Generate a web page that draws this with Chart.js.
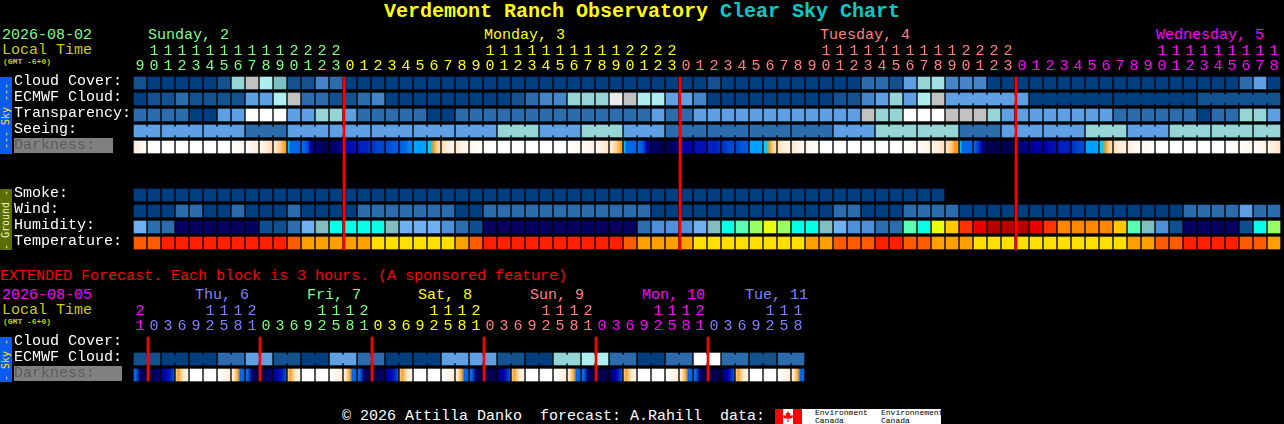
<!DOCTYPE html>
<html><head><meta charset="utf-8">
<script src="https://cdn.jsdelivr.net/npm/chart.js@4"></script>
<style>
html,body{margin:0;padding:0;background:#000;width:1284px;height:424px;overflow:hidden}
.t{position:absolute;white-space:pre;font:15px/15px "Liberation Mono",monospace}
.tiny{font:bold 8px/8px "Liberation Mono",monospace;color:#CCCC00}
.band{position:absolute;left:0;width:12px;overflow:hidden}
.band span{position:absolute;left:6px;top:50%;transform:translate(-50%,-50%) rotate(-90deg);white-space:pre;font:10px/10px "DejaVu Sans Mono",monospace}
canvas{position:absolute;left:0;display:block}
</style></head><body>
<div class="t" id="title" style="left:384px;top:1px;font:bold 20px/22px 'Liberation Mono',monospace;color:#FFFF00">Verdemont Ranch Observatory <span style="color:#00CCCC">Clear Sky Chart</span></div>
<div class="t" style="left:2px;top:28px;color:#80FF80">2026-08-02</div>
<div class="t" style="left:2px;top:43px;color:#CCCC00">Local Time</div>
<div class="t tiny" style="left:3px;top:58px">(GMT -6+0)</div>
<div class="t" style="left:148px;top:28px;color:#80FF80">Sunday, 2</div>
<div class="t" style="left:484px;top:28px;color:#FFFF00">Monday, 3</div>
<div class="t" style="left:820px;top:28px;color:#FF8080">Tuesday, 4</div>
<div class="t" style="left:1156px;top:28px;color:#FF00FF">Wednesday, 5</div>
<div class="band" style="top:77px;height:77px;background:#0A5CF0"><span style="color:#FFE800">--- Sky ---</span></div>
<div class="band" style="top:189px;height:61px;background:#5A6E00"><span style="color:#F0F0D0">- Ground -</span></div>
<div class="t" style="left:0;top:269px;color:#FF0000">EXTENDED Forecast. Each block is 3 hours. (A sponsored feature)</div>
<div class="t" style="left:2px;top:288px;color:#FF00FF">2026-08-05</div>
<div class="t" style="left:2px;top:303px;color:#CCCC00">Local Time</div>
<div class="t tiny" style="left:3px;top:318px">(GMT -6+0)</div>
<div class="t" style="left:195px;top:288px;color:#8080FF">Thu, 6</div>
<div class="t" style="left:307px;top:288px;color:#80FF80">Fri, 7</div>
<div class="t" style="left:418px;top:288px;color:#FFFF00">Sat, 8</div>
<div class="t" style="left:530px;top:288px;color:#FF8080">Sun, 9</div>
<div class="t" style="left:642px;top:288px;color:#FF00FF">Mon, 10</div>
<div class="t" style="left:745px;top:288px;color:#8080FF">Tue, 11</div>
<div class="band" style="top:337px;height:45px;background:#0A5CF0"><span style="color:#FFE800">- Sky -</span></div>
<div class="t" style="left:342px;top:409px;color:#FFFFFF">© 2026 Attilla Danko  forecast: A.Rahill  data:</div>
<div style="position:absolute;left:775px;top:409px;width:166px;height:15px;background:#fff;overflow:hidden">
  <div style="position:absolute;left:0;top:0;width:8px;height:15px;background:#f00"></div>
  <div style="position:absolute;left:18px;top:0;width:9px;height:15px;background:#f00"></div>
  <svg style="position:absolute;left:8px;top:2px" width="10" height="11" viewBox="0 0 10 11"><path d="M5 0L6.2 2.5 7.5 2 7 5 9.5 4 10 6 8 7.5 5.5 7.5 5.5 11 4.5 11 4.5 7.5 2 7.5 0 6 .5 4 3 5 2.5 2 3.8 2.5Z" fill="#f00"/></svg>
  <div style="position:absolute;left:40px;top:0;font:8px/7.5px 'Liberation Mono',monospace;color:#000;white-space:pre">Environment
Canada</div>
  <div style="position:absolute;left:106px;top:0;font:8px/7.5px 'Liberation Mono',monospace;color:#000;white-space:pre">Environnement
Canada</div>
</div>
<canvas id="main" width="1284" height="252" style="top:0;width:1284px;height:252px"></canvas>
<canvas id="ext" width="810" height="384" style="top:0;width:810px;height:384px"></canvas>
<script>
// ---------- categories and tick labels ----------
const rowNames = ["Cloud Cover:","ECMWF Cloud:","Transparency:","Seeing:","Darkness:  ","","","Smoke:","Wind:","Humidity:","Temperature:"];
const extRowNames = ["Cloud Cover:","ECMWF Cloud:","Darkness:   "];
const hours = [9,10,11,12,13,14,15,16,17,18,19,20,21,22,23,
 0,1,2,3,4,5,6,7,8,9,10,11,12,13,14,15,16,17,18,19,20,21,22,23,
 0,1,2,3,4,5,6,7,8,9,10,11,12,13,14,15,16,17,18,19,20,21,22,23,
 0,1,2,3,4,5,6,7,8,9,10,11,12,13,14,15,16,17,18];
const extHours = [21,0,3,6,9,12,15,18,21,0,3,6,9,12,15,18,21,0,3,6,9,12,15,18,21,0,3,6,9,12,15,18,21,0,3,6,9,12,15,18,21,0,3,6,9,12,15,18];
const dayColours = ["#80FF80","#FFFF00","#FF8080","#FF00FF"];
const daySpans = [15,24,24,19];
const extDayColours = ["#FF00FF","#8080FF","#80FF80","#FFFF00","#FF8080","#FF00FF","#8080FF"];
const extDaySpans = [1,8,8,8,8,8,7];
const midnights = [14.57,38.57,62.57];
const extMidnights = [0.57,8.57,16.57,24.57,32.57,40.57];

// ---------- series values (levels on each colour ramp) ----------
const cloudCover = [1,0,0,0,0,0,1,6,9,8, 5,1,1,3,2,0,0,0,0,0, 0,0,0,0,0,0,0,0,0,0, 0,0,0,0,0,0,0,0,0,0,
 0,1,0,0,0,0,0,0,0,0, 0,0,2,2,1,4,6,7,3,3, 3,0,0,0,0,0,0,0,0,0, 0,0,0,0,0,0,0,0,0,2, 4,0];
const ecmwfCloud = [0,1,1,2,1,1,1,1,4,4, 8,9,2,2,1,1,2,3,0,0, 0,0,0,0,0,0,0,1,2,3, 3,6,6,6,10,9,8,8,4,4,
 3,0,0,0,0,0,0,0,0,0, 1,1,3,4,6,4,8,9,4,4, 4,4,4,4,0,0,0,0,0,0, 0,0,0,0,0,0,1,1,1,1, 1,1];
const transparency = [2,2,2,2,0,0,4,4,11,11, 11,4,4,6,6,4,2,2,2,2, 2,0,0,2,2,2,2,2,2,2, 2,2,2,2,2,2,2,4,2,2,
 4,4,4,4,4,4,4,4,4,4, 4,4,9,6,6,11,11,11,9,9, 9,6,4,4,4,4,4,4,4,4, 2,2,2,2,2,2,0,2,2,6, 6,4];
const seeing = [4,4,4,4,4,4,4,4,2,2, 2,4,4,4,4,4,4,4,4,4, 4,4,4,4,4,4,6,6,6,4, 4,4,6,6,6,4,4,4,2,2,
 2,2,2,2,2,2,2,2,2,2, 4,4,4,6,6,6,6,6,6,2, 2,2,4,4,4,4,4,4,6,6, 6,4,4,4,6,6,6,6,6,6, 6,6];
const smoke = [0,0,0,0,0,0,0,0,0,0, 0,0,0,0,0,0,0,0,0,0, 0,0,0,0,0,0,0,0,0,0, 0,0,0,0,0,0,0,0,0,0,
 0,0,0,0,0,0,0,0,0,0, 0,0,0,0,0,0,0,0];
const wind = [0,0,0,2,2,0,0,2,0,0, 0,2,0,0,0,0,2,2,2,2, 2,2,2,0,0,2,2,2,2,2, 2,2,2,2,2,2,2,0,0,0,
 0,0,0,0,0,0,0,0,0,0, 2,2,0,0,0,2,2,2,2,0, 0,0,0,0,0,0,0,0,0,0, 0,0,0,0,0,2,2,2,2,4, 2,2];
const humidity = [4,2,2,0,0,0,0,0,0,1, 1,2,4,5,6,6,6,6,5,4, 4,4,3,2,1,0,0,0,0,0, 0,0,0,0,0,0,2,3,3,3,
 4,5,6,7,8,9,8,6,6,5, 4,3,3,2,2,7,6,9,10,12, 13,14,14,14,13,12,11,11,11,11, 10,7,5,3,1,0,0,0,0,1, 6,8];
const temperature = [1,1,0,0,0,0,0,0,0,0, 0,1,2,2,2,2,2,3,3,3, 3,3,3,2,1,0,0,0,0,0, 0,0,0,0,0,1,2,2,2,2,
 3,3,3,3,3,3,3,3,2,2, 1,1,1,0,0,1,1,2,2,2, 3,3,3,3,3,3,3,3,3,3, 3,2,2,1,1,0,0,0,0,1, 1,2];
const extEcmwf = [1,1,0,0,0,0,2,2,4,4, 1,1,0,0,4,4,2,2,0,0, 0,0,4,4,4,4,1,1,0,0, 6,6,8,8,2,2,0,0,2,2, 11,11,2,2,1,1,2,2];

// runs of cells that the source joins into one block: [first, last]
const seeingRuns = [[0,1],[2,4],[5,7],[8,10],[11,13],[14,16],[17,19],[20,22],[23,25],[26,28],[29,31],[32,34],[35,37],[38,40],[41,43],[44,46],[47,49],[50,52],[53,55],[56,58],[59,61],[62,64],[65,67],[68,70],[71,73],[74,76],[77,79],[80,81]];
const ecmwfRuns = [[58,63],[64,69],[70,75],[76,81]];
const extEcmwfRuns = [[0,1],[2,3],[4,5],[6,7],[8,9],[10,11],[12,13],[14,15],[16,17],[18,19],[20,21],[22,23],[24,25],[26,27],[28,29],[30,31],[32,33],[34,35],[36,37],[38,39],[40,41],[42,43],[44,45],[46,47]];

// darkness changes inside a cell: five readings across each cell
const darkness = [
[1.5,1.3,.8,.5,.2],[0,0,0,0,0],[0,0,0,0,0],[0,0,0,0,0],[0,0,0,0,0],[0,0,0,0,0],[0,0,0,0,0],[0,.2,.4,.5,.8],[0,.5,1,1.2,1.5],[.3,1,1.5,2,2.5],
[1.5,2,3,3.5,4],[5,7,7,7,7],[7,7,8,10,11],[11,11,11.5,12,12],[11.5,11.5,11,10.5,10.5],[10,9.5,9.5,9.5,9.5],[9.5,9,9,9,8.5],[8.5,8.5,8,8,8],[8,8,7.5,7.5,7.5],[7.5,7,7,6.5,6.5],
[6,6,6,6,6],[5,5.5,4,3,2.5],[2.5,2,1.5,1,.8],[2,1.5,1,.8,.5],[1,.8,.5,.3,.2],[.5,.2,0,0,0],[0,0,0,0,0],[0,0,0,0,0],[0,0,0,0,0],[0,0,0,0,0],
[0,0,0,0,0],[0,.2,.4,.6,.8],[.2,.5,.8,1,1.2],[.3,.8,1.2,1.6,2],[1.5,2,2.8,3.5,4],[5,7,7,7,7],[7,7,8,10,10.5],[11,11.5,11.5,12,12],[12,12,11.5,11,10.5],[10.5,10,10,10,10],
[10,9.5,9.5,9.5,9.5],[9,9,9,9,8.5],[8.5,8.5,8,8,8],[8,8,7.5,7.5,7.5],[6,6,6,6,6],[5,5.5,4,3,2.5],[2.5,2,1.5,1.2,1],[2,1.5,1,.8,.5],[1,.8,.5,.3,.2],[.5,.2,0,0,0],
[0,0,0,0,0],[0,0,0,0,0],[0,0,0,0,0],[0,0,0,0,0],[0,0,0,0,0],[0,.2,.3,.5,.7],[.2,.5,.8,1,1.2],[.5,1,1.5,1.8,2],[2,2.5,3.2,4,4],[5,7,7,7,7],
[7,7.5,9,10.5,11],[11.5,12,12,12,12],[12,12,12,12,12],[11,11,11,10.5,10.5],[10.5,10.5,10,10,10],[10,10,9.5,9.5,9.5],[9.5,9,9,9,9],[8.5,8.5,8,8,8],[6,6,6,6,6],[5,5.5,4,3,2.5],
[2.5,2,1.5,1.2,1],[1.5,1.2,.8,.5,.2],[.8,.5,.3,.1,0],[.3,.1,0,0,0],[0,0,0,0,0],[0,0,0,0,0],[0,0,0,0,0],[0,0,0,0,0],[0,.1,.2,.3,.3],[0,.2,.5,.6,.8],
[.2,.5,.8,1,1.2],[.5,1,1.5,1.8,2]];
const extDarkness = [
[7,7,11,11.5,12],[12,12,12,11,11],[10,10,9.5,9,7.5],[3,4,2.5,1.5,.8],[.3,0,0,0,0],[0,0,0,0,0],[0,.2,.5,1,1.5],[1.5,2,4,7,7],
[7,7,11,12,12],[12,12,12,11,11],[10,10,9.5,9,7.5],[3,4,2.5,1.5,.8],[.3,0,0,0,0],[0,0,0,0,0],[0,.2,.5,1,1.5],[1.5,2,4,7,7],
[7,7,11,12,12],[12,12,12,11.5,11],[10.5,10,9.5,9,7.5],[3,4,2.5,1.5,.8],[.3,0,0,0,0],[0,0,0,0,0],[0,.2,.5,1,1.5],[1.5,2,4,7,7],
[7,7,11,12,12],[12,12,12,12,11.5],[11,10.5,10,9,7.5],[3,4,2.5,1.5,.8],[.3,0,0,0,0],[0,0,0,0,0],[0,.2,.5,1,1.5],[1.5,2,4,7,7],
[7,7,11,12,12],[12,12,12,12,12],[11.5,11,10,9,7.5],[3,4,2.5,1.5,.8],[.3,0,0,0,0],[0,0,0,0,0],[0,.2,.5,1,1.5],[1.5,2,4,7,7],
[7,7,11,12,12],[12,12,12,12,12],[11.5,11,10,9,7.5],[3,4,2.5,1.5,.8],[.3,0,0,0,0],[0,0,0,0,0],[0,.2,.5,1,1.5],[1.5,2,4,7,7]];

// ---------- colour ramps ----------
const skyRamp = ["#003F7F","#14528F","#2C6CAC","#4585C8","#5F9FE3","#7FBFBF","#95D5D5","#A2E2E2","#AEEEEE","#C2C2C2","#EAEAEA","#FFFFFF"];
const humidityRamp = ["#08005F","#0D4F90","#2D6DAD","#5090D8","#70B0F0","#82BEBE","#08FFE8","#5AFFB4","#99FF66","#E8FF10","#FFC800","#FF8800","#FF3300","#E80000","#B80000"];
const temperatureRamp = ["#FF2000","#FF5C00","#FFA000","#FFE000"];
const darknessRamp = [[255,255,255],[255,244,232],[255,230,200],[255,208,152],[255,158,16],[0,224,255],[0,160,255],[0,104,232],[0,72,208],[0,32,192],[0,0,168],[0,0,112],[0,0,80]];
const readingAt = [0,.15,.5,.7,1];

function darknessColour(v){
  const a=Math.floor(v), b=Math.min(a+1,darknessRamp.length-1), f=v-a;
  const c=darknessRamp[a].map((n,k)=>Math.round(n+(darknessRamp[b][k]-n)*f));
  return `rgb(${c.join(",")})`;
}
const cellTop=.125, cellBottom=.875;
function cells(row,values,ramp){
  return {order:2,data:values.map((v,i)=>({x:i,y:[row+cellTop,row+cellBottom]})),
    backgroundColor:values.map(v=>ramp[v]),barThickness:12};
}
function bridges(row,values,ramp,runs){
  const pts=[],cols=[];
  runs.forEach(([a,b])=>{for(let i=a;i<b;i++){pts.push({x:i+.5,y:[row+.25,row+.75]});cols.push(ramp[values[i]]);}});
  return {order:1,data:pts,backgroundColor:cols,barThickness:2};
}
function gradientCells(row,readings){
  return {order:2,data:readings.map((v,i)=>({x:i,y:[row+cellTop,row+cellBottom]})),barThickness:12,
    backgroundColor(c){
      const r=readings[c.dataIndex]; if(!r) return "#000";
      const s=c.chart.scales.x, mid=s?s.getPixelForValue(c.dataIndex):NaN;
      if(!Number.isFinite(mid)) return "#000";
      const g=c.chart.ctx.createLinearGradient(mid-6,0,mid+6,0);
      r.forEach((v,k)=>g.addColorStop(readingAt[k],darknessColour(v)));
      return g;
    }};
}
function redLines(xs,y0,y1){
  return {order:0,data:xs.map(x=>({x,y:[y0,y1]})),backgroundColor:"#FF0000",barThickness:2};
}
function expand(colours,spans){const o=[];spans.forEach((n,i)=>{for(let k=0;k<n;k++)o.push(colours[i]);});return o;}

function build(id,cfg){
  const font={family:'"Liberation Mono",monospace',size:15,lineHeight:1};
  const tickColours=expand(cfg.colours,cfg.spans);
  return new Chart(document.getElementById(id),{
    type:"bar",
    data:{datasets:cfg.datasets},
    options:{
      responsive:false,animation:false,devicePixelRatio:1,
      layout:{padding:{left:14,top:0,right:cfg.right,bottom:1}},
      datasets:{bar:{grouped:false,borderWidth:0,borderSkipped:false}},
      plugins:{legend:{display:false},tooltip:{enabled:false},title:{display:false}},
      scales:{
        x:{type:"linear",position:"top",offset:false,min:-.5,max:cfg.hours.length-.5,
          grid:{display:false,drawTicks:false,offset:false},border:{display:false},
          afterBuildTicks(s){s.ticks=cfg.hours.map((_,i)=>({value:i}));},
          afterFit(s){s.height=cfg.axisHeight;s.paddingLeft=0;s.paddingRight=0;},
          ticks:{autoSkip:false,maxRotation:0,minRotation:0,font,padding:cfg.tickPad,
            color:c=>tickColours[c.index],
            callback(v,i){const h=cfg.hours[i];return [h>=10?String(Math.floor(h/10)):" ",String(h%10)];}}},
        y:{type:"linear",reverse:true,offset:false,min:0,max:cfg.rows.length,
          grid:{display:false,drawTicks:false},border:{display:false},
          afterBuildTicks(s){s.ticks=cfg.rows.map((_,i)=>({value:i+.406}));},
          afterFit(s){s.width=119;s.paddingTop=0;s.paddingBottom=0;},
          ticks:{autoSkip:false,crossAlign:"far",font,padding:0,
            color:c=>cfg.rows[c.index].startsWith("Darkness")?"#5C5C5C":"#FFFFFF",
            showLabelBackdrop:c=>cfg.rows[c.index].startsWith("Darkness"),
            backdropColor:"#808080",backdropPadding:0,
            callback(v,i){return cfg.rows[i];}}}
      }
    }
  });
}

build("main",{
  rows:rowNames,hours,colours:dayColours,spans:daySpans,right:3,axisHeight:75,tickPad:1,
  datasets:[
    redLines(midnights,.125,10.94),
    cells(0,cloudCover,skyRamp),
    cells(1,ecmwfCloud,skyRamp),bridges(1,ecmwfCloud,skyRamp,ecmwfRuns),
    cells(2,transparency,skyRamp),
    cells(3,seeing,skyRamp),bridges(3,seeing,skyRamp,seeingRuns),
    gradientCells(4,darkness),
    cells(7,smoke,skyRamp),
    cells(8,wind,skyRamp),
    cells(9,humidity,humidityRamp),
    cells(10,temperature,temperatureRamp)
  ]
});
build("ext",{
  rows:extRowNames,hours:extHours,colours:extDayColours,spans:extDaySpans,right:5,axisHeight:335,tickPad:1,
  datasets:[
    redLines(extMidnights,.125,2.875),
    cells(1,extEcmwf,skyRamp),bridges(1,extEcmwf,skyRamp,extEcmwfRuns),
    gradientCells(2,extDarkness)
  ]
});
</script>
</body></html>
